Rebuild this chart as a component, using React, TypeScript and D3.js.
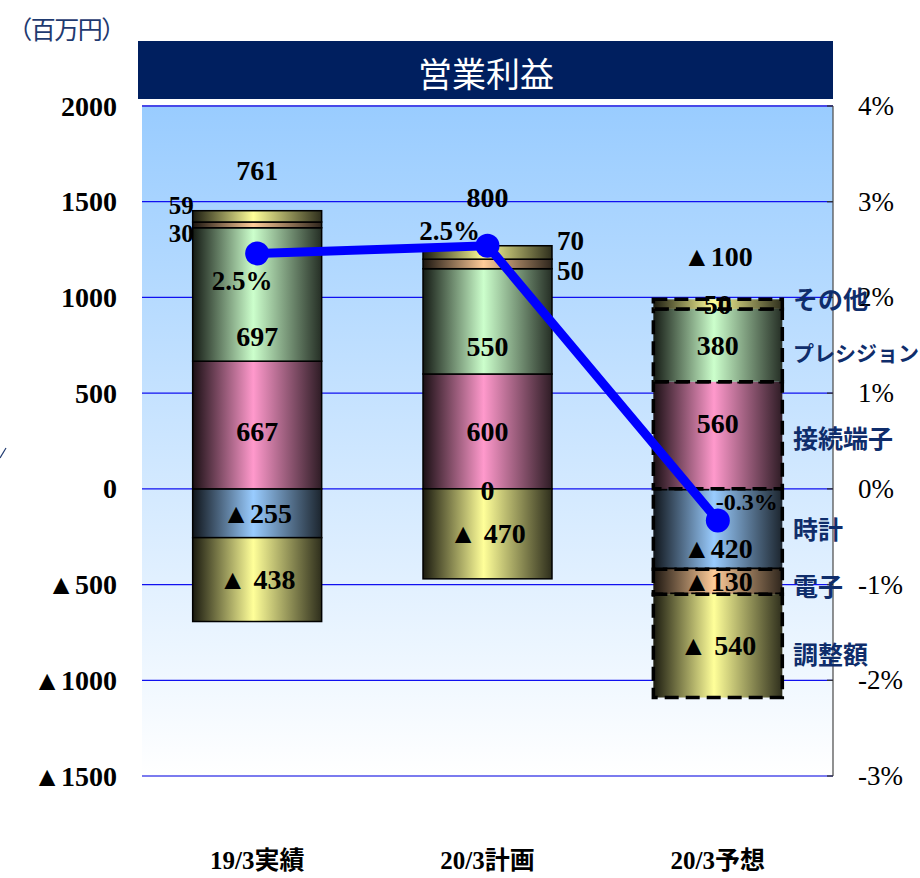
import React from "react";
import * as d3 from "d3";

const categories = ["19/3実績", "20/3計画", "20/3予想"];
const seriesNames = ["時計", "接続端子", "プレシジョン", "電子", "その他", "調整額"];
const clockVals = [-255, 0, -420];
const connectorVals = [667, 600, 560];
const precisionVals = [697, 550, 380];
const electronVals = [30, 50, -130];
const otherVals = [59, 70, 50];
const adjustVals = [-438, -470, -540];
const totals = ["761", "800", "▲100"];
const marginVals = [2.46, 2.54, -0.33];
const marginLabels = ["2.5%", "2.5%", "-0.3%"];
const leftTicks = [2000, 1500, 1000, 500, 0, -500, -1000, -1500];
const rightTicks = [4, 3, 2, 1, 0, -1, -2, -3];
const seriesColors = ["#99CCFF", "#FF99CC", "#CCFFCC", "#FFCC99", "#FFFF99", "#FFFF99"];
const segLabels = [
  ["▲255", "0", "▲420"],
  ["667", "600", "560"],
  ["697", "550", "380"],
  ["30", "50", "▲130"],
  ["59", "70", "50"],
  ["▲ 438", "▲ 470", "▲ 540"],
];
const legendItems = [
  { name: "その他", y: 298, size: 25 },
  { name: "プレシジョン", y: 352, size: 21 },
  { name: "接続端子", y: 437, size: 25 },
  { name: "時計", y: 528, size: 25 },
  { name: "電子", y: 585, size: 25 },
  { name: "調整額", y: 653, size: 25 },
];

const NUM_FONT = "'Liberation Serif', 'DejaVu Serif', 'Noto Sans CJK JP', serif";
const JP_FONT = "'Noto Sans CJK JP', sans-serif";

export default function App() {
  const W = 920, H = 878;
  const plotL = 142, plotR = 833, plotT = 106, plotB = 776;
  const x = d3.scaleBand().domain(categories).range([plotL, plotR]).paddingInner(0.44).paddingOuter(0.22);
  const y = d3.scaleLinear().domain([-1500, 2000]).range([plotB, plotT]);
  const yR = d3.scaleLinear().domain([-3, 4]).range([plotB, plotT]);

  const valuesBySeries = [clockVals, connectorVals, precisionVals, electronVals, otherVals, adjustVals];
  const rows = categories.map((c, i) => {
    const r: any = { cat: c };
    seriesNames.forEach((s, k) => (r[s] = valuesBySeries[k][i]));
    return r;
  });
  const stacked = d3.stack<any>().keys(seriesNames).offset(d3.stackOffsetDiverging)(rows);

  const bw = x.bandwidth();
  const cx = (c: string) => (x(c) as number) + bw / 2;
  const line = d3.line<number>().x((_, i) => cx(categories[i])).y((d) => yR(d));

  const nudges: Record<string, number> = {
    "2-0": 42, "1-0": 6, "2-1": 25, "1-2": -12, "0-2": 19, "3-0": 9, "4-0": -11, "3-1": 7, "4-1": -11, "0-1": 2,
  };
  const labelPos = (k: number, i: number) => {
    const seg = stacked[k][i];
    const mid = (y(seg[0]) + y(seg[1])) / 2 + (nudges[`${k}-${i}`] || 0);
    const c = cx(categories[i]);
    if ((k === 3 || k === 4) && i === 0) return { x: x(categories[0])! + 1, y: mid, anchor: "end", size: 25 };
    if ((k === 3 || k === 4) && i === 1) return { x: x(categories[1])! + bw + 5, y: mid, anchor: "start", size: 27 };
    return { x: c, y: mid, anchor: "middle", size: 28 };
  };

  const totalY = [170, 197, 256];
  const pctPos = [
    { dx: -15, dy: 28 },
    { dx: -38, dy: -15 },
    { dx: 29, dy: -18 },
  ];

  return (
    <svg width={W} height={H} style={{ display: "block", position: "absolute", left: 0, top: 0 }}>
      <defs>
        <linearGradient id="bg" x1="0" y1="0" x2="0" y2="1">
          <stop offset="0" stopColor="#99CCFF" />
          <stop offset="1" stopColor="#FFFFFF" />
        </linearGradient>
        {seriesColors.map((col, k) => (
          <linearGradient key={k} id={`g${k}`} x1="0" y1="0" x2="1" y2="0">
            <stop offset="0" stopColor={d3.interpolateRgb("#000", col)(0.1)} />
            <stop offset="0.47" stopColor={col} />
            <stop offset="1" stopColor={d3.interpolateRgb("#000", col)(0.18)} />
          </linearGradient>
        ))}
      </defs>
      <rect width={W} height={H} fill="#fff" />
      <text x={66} y={28} textAnchor="middle" dominantBaseline="central" fontFamily={JP_FONT} fontSize={25} letterSpacing={-1.5} fill="#1F3A70">
        （百万円）
      </text>
      <path d="M0,458 L6,448" stroke="#1F3A70" strokeWidth={1.2} fill="none" />
      <rect x={138} y={41} width={plotR - 138} height={58} fill="#001F5F" />
      <text x={486} y={72} textAnchor="middle" dominantBaseline="central" fontFamily={JP_FONT} fontSize={34} fill="#fff">
        営業利益
      </text>
      <rect x={plotL} y={plotT} width={plotR - plotL} height={plotB - plotT} fill="url(#bg)" />
      {leftTicks.map((t) => (
        <line
          key={t}
          x1={plotL}
          x2={plotR}
          y1={y(t)}
          y2={y(t)}
          stroke={t === -1500 ? "#7B7BEF" : t === 2000 ? "#4848E8" : "#1010F0"}
          strokeWidth={t === -1500 || t === 2000 ? 2 : 1.3}
        />
      ))}
      <line x1={plotR} x2={plotR} y1={plotT} y2={plotB} stroke="#555" strokeWidth={1.3} />
      {rightTicks.map((t) => (
        <line key={t} x1={plotR - 6} x2={plotR} y1={yR(t)} y2={yR(t)} stroke="#333" strokeWidth={1.3} />
      ))}
      {leftTicks.map((t) => (
        <text key={t} x={117} y={y(t)} textAnchor="end" dominantBaseline="central" fontFamily={NUM_FONT} fontWeight="bold" fontSize={28} fill="#000">
          {t < 0 ? `▲${-t}` : `${t}`}
        </text>
      ))}
      {rightTicks.map((t) => (
        <text key={t} x={858} y={yR(t)} textAnchor="start" dominantBaseline="central" fontFamily={NUM_FONT} fontSize={27} fill="#000">
          {t < 0 ? `-${-t}%` : `${t}%`}
        </text>
      ))}
      {stacked.map((s, k) =>
        s.map((seg, i) => {
          const y0 = y(seg[0]), y1 = y(seg[1]);
          const top = Math.min(y0, y1), h = Math.abs(y0 - y1);
          const dashed = i === 2;
          return (
            <rect
              key={`${k}-${i}`}
              x={x(categories[i])}
              y={top}
              width={bw}
              height={h}
              fill={`url(#g${k})`}
              stroke="#000"
              strokeWidth={dashed ? 3.5 : 1.5}
              strokeDasharray={dashed ? "14 7" : undefined}
            />
          );
        })
      )}
      <path d={line(marginVals) || ""} fill="none" stroke="#0000FF" strokeWidth={9} />
      {marginVals.map((v, i) => (
        <circle key={i} cx={cx(categories[i])} cy={yR(v)} r={12} fill="#0000FF" />
      ))}
      {stacked.map((s, k) =>
        s.map((seg, i) => {
          const p = labelPos(k, i);
          return (
            <text
              key={`l${k}-${i}`}
              x={p.x}
              y={p.y}
              textAnchor={p.anchor as any}
              dominantBaseline="central"
              fontFamily={NUM_FONT}
              fontWeight="bold"
              fontSize={p.size}
              fill="#000"
            >
              {segLabels[k][i]}
            </text>
          );
        })
      )}
      {totals.map((t, i) => (
        <text key={i} x={cx(categories[i])} y={totalY[i]} textAnchor="middle" dominantBaseline="central" fontFamily={NUM_FONT} fontWeight="bold" fontSize={28} fill="#000">
          {t}
        </text>
      ))}
      {marginVals.map((v, i) => (
        <text
          key={i}
          x={cx(categories[i]) + pctPos[i].dx}
          y={yR(v) + pctPos[i].dy}
          textAnchor="middle"
          dominantBaseline="central"
          fontFamily={NUM_FONT}
          fontWeight="bold"
          fontSize={i === 2 ? 24 : 27}
          fill="#000"
        >
          {marginLabels[i]}
        </text>
      ))}
      {legendItems.map((l) => (
        <text key={l.name} x={793} y={l.y} dominantBaseline="central" fontFamily={JP_FONT} fontWeight="bold" fontSize={l.size} fill="#0F2D6B">
          {l.name}
        </text>
      ))}
      {categories.map((c) => (
        <text key={c} x={cx(c)} y={860} textAnchor="middle" dominantBaseline="central" fontFamily={NUM_FONT} fontWeight="bold" fontSize={25} fill="#000">
          {c}
        </text>
      ))}
    </svg>
  );
}
